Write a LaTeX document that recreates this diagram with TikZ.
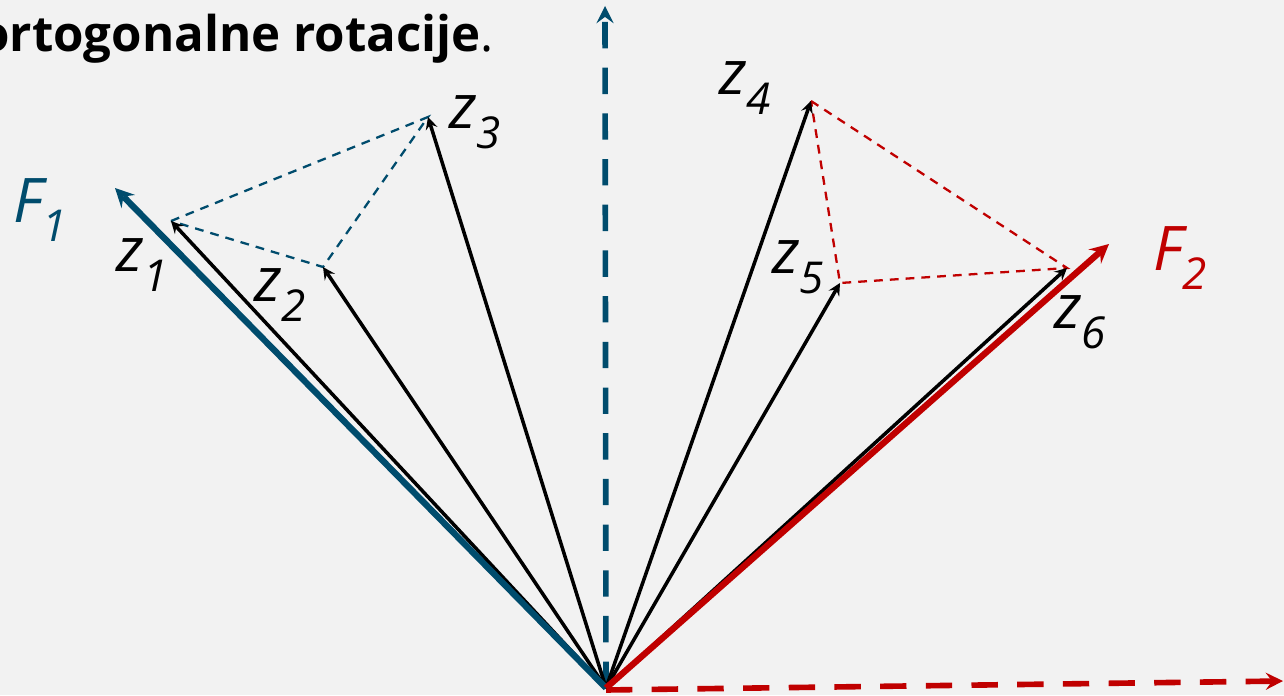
\documentclass[tikz,border=0pt]{standalone}
\usepackage{fontspec}
\setmainfont{Open Sans}
\usetikzlibrary{arrows.meta}
\definecolor{fblue}{HTML}{004C6D}
\definecolor{fred}{HTML}{C00000}
\definecolor{slidebg}{HTML}{F2F2F2}
\newcommand{\veclab}[2]{#1\raisebox{-0.32em}{\fontsize{25}{27}\selectfont #2}}
\begin{document}
\begin{tikzpicture}[>=stealth,
  vec/.style={->,line width=2pt},
  factor/.style={->,line width=3.6pt},
  axisline/.style={->,line width=3.2pt,dash pattern=on 15pt off 11pt},
  link/.style={line width=1.3pt,dash pattern=on 5pt off 4pt},
  lab/.style={font=\fontsize{35}{38}\selectfont\itshape}]
\fill[slidebg] (0,0) rectangle (25.68,13.9);
\useasboundingbox (0,0) rectangle (25.68,13.9);
% origin, factor axes and the six variable vectors
\coordinate (O) at (12.12,0.14);
\coordinate (ytop) at (12.10,13.78);
\coordinate (xend) at (25.66,0.28);
\coordinate (F1) at (2.30,10.14);
\coordinate (F2) at (22.18,9.02);
\coordinate (z1) at (3.42,9.48);
\coordinate (z2) at (6.46,8.56);
\coordinate (z3) at (8.56,11.56);
\coordinate (z4) at (16.22,11.88);
\coordinate (z5) at (16.80,8.24);
\coordinate (z6) at (21.34,8.54);

\node[anchor=base east,font=\fontsize{28}{32}\selectfont] (title) at (10.0,12.86) {\textbf{ortogonalne rotacije}.};

\draw[axisline,fblue] (O) -- (ytop);
\draw[axisline,fred] (12.12,0.10) -- (xend);

% clusters
\draw[link,fblue] (z1) -- (z3) -- (z2) -- cycle;
\draw[link,fred] (z4) -- (z6) -- (z5) -- cycle;

\foreach \v in {z1,z2,z3,z4,z5,z6}
  \draw[vec] (O) -- (\v);
\draw[factor,fblue] (O) -- (F1);
\draw[factor,fred] (O) -- (F2);

\node[lab,text=fblue] (lF1) at (0.80,9.70) {\veclab{F}{1}};
\node[lab,text=fred] (lF2) at (23.60,8.74) {\veclab{F}{2}};
\node[lab] (lz1) at (2.84,8.60) {\veclab{z}{1}};
\node[lab] (lz2) at (5.60,8.00) {\veclab{z}{2}};
\node[lab] (lz3) at (9.50,11.46) {\veclab{z}{3}};
\node[lab] (lz4) at (14.90,12.14) {\veclab{z}{4}};
\node[lab] (lz5) at (15.96,8.56) {\veclab{z}{5}};
\node[lab] (lz6) at (21.60,7.46) {\veclab{z}{6}};
\end{tikzpicture}
\end{document}
